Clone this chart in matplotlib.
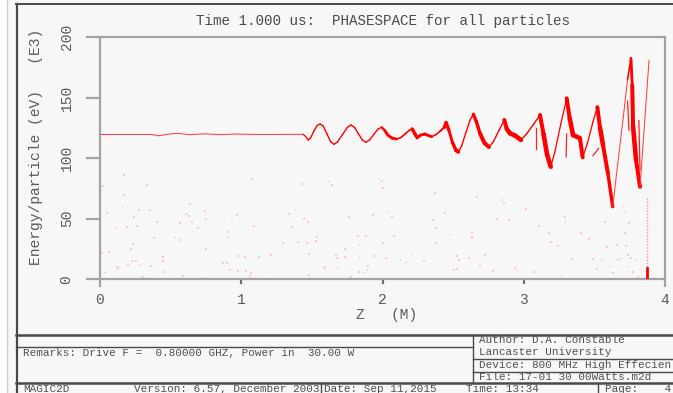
import matplotlib
matplotlib.use('Agg')
import numpy as np
import matplotlib.pyplot as plt
from matplotlib.collections import LineCollection
from matplotlib.lines import Line2D

# ---------------------------------------------------------------
# Phase space data: beam centre line (Z in m, energy in keV)
# beam_spread = relative energy spread of the bunch from each point
# to the next one
# ---------------------------------------------------------------
beam_z = [0.000, 0.354, 0.418, 0.467, 0.545, 0.637, 0.743, 0.850, 0.956, 1.133,
          1.437, 1.455, 1.473, 1.490, 1.515, 1.538, 1.558, 1.580, 1.607, 1.633,
          1.657, 1.682, 1.717, 1.752, 1.777, 1.803, 1.830, 1.858, 1.883, 1.910,
          1.938, 1.968, 1.994, 2.015, 2.037, 2.068, 2.100, 2.130, 2.160, 2.190,
          2.211, 2.230, 2.246, 2.270, 2.301, 2.325, 2.348, 2.380, 2.410, 2.438,
          2.450, 2.470, 2.495, 2.520, 2.537, 2.560, 2.590, 2.620, 2.643, 2.665,
          2.690, 2.722, 2.754, 2.785, 2.825, 2.862, 2.880, 2.903, 2.940, 2.980,
          3.020, 3.070, 3.115, 3.140, 3.165, 3.191, 3.220, 3.262, 3.304, 3.325,
          3.349, 3.398, 3.417, 3.450, 3.490, 3.521, 3.540, 3.561, 3.595, 3.630,
          3.665, 3.705, 3.735, 3.759, 3.768, 3.774, 3.795, 3.823, 3.855, 3.887]
beam_e = [119.7, 119.7, 118.5, 119.5, 120.5, 119.4, 120.1, 119.4, 119.9, 119.5,
          119.7, 118.0, 115.0, 116.5, 122.5, 127.0, 128.2, 126.5, 120.0, 113.5,
          111.4, 113.5, 119.5, 125.5, 127.4, 125.3, 120.0, 115.0, 113.1, 115.2,
          119.5, 124.0, 125.5, 123.0, 119.1, 116.5, 115.8, 117.0, 120.0, 123.0,
          124.1, 120.0, 116.9, 119.0, 119.9, 118.7, 117.7, 119.5, 122.5, 125.5,
          129.3, 123.0, 113.0, 106.5, 105.3, 110.0, 121.0, 131.5, 136.2, 130.0,
          120.5, 112.5, 109.2, 113.5, 123.0, 131.5, 124.0, 120.5, 118.5, 115.0,
          120.0, 128.0, 135.6, 120.0, 103.0, 92.9, 105.0, 128.0, 149.4, 133.0,
          119.1, 116.4, 100.7, 112.0, 130.0, 142.0, 125.0, 110.9, 88.0, 59.9,
          95.0, 134.2, 165.0, 182.4, 160.0, 126.0, 98.5, 76.4, 128.0, 181.0]
beam_spread = [0, 0, 0, 0, 0, 0, 0, 0, 0, 0,
               0.2, 0.2, 0.3, 0.3, 0.3, 0.3, 0.3, 0.3, 0.3, 0.3,
               0.3, 0.3, 0.3, 0.3, 0.3, 0.3, 0.3, 0.3, 0.3, 0.3,
               0.3, 0.3, 1.0, 1.5, 1.5, 1.5, 0.5, 0.5, 0.5, 0.5,
               2.0, 2.0, 1.5, 1.5, 1.5, 1.5, 0.5, 0.5, 0.8, 2.0,
               2.0, 1.5, 2.0, 2.5, 0.3, 0.3, 0.3, 0.3, 2.0, 2.0,
               2.5, 2.5, 0.3, 0.3, 0.3, 2.5, 3.0, 3.0, 3.0, 0.3,
               0.3, 0.3, 2.5, 3.0, 3.0, 0.2, 0.2, 0.2, 2.5, 3.0,
               3.0, 2.5, 0.2, 0.2, 0.2, 2.5, 3.0, 2.5, 2.0, 0.0,
               0.0, 0.0, 0.5, 1.5, 2.5, 3.0, 2.5, 0.0, 0.0, 0.0]

# short side branches of the phase space
branch_z = [[3.087, 3.087], [3.304, 3.300], [3.490, 3.530], [3.815, 3.823], [3.735, 3.745]]
branch_e = [[124.8, 107.5], [120.0, 101.0], [102.0, 108.0], [131.0, 90.0], [147.0, 123.0]]

# reflected particles near the output
streak_z = [3.870, 3.870]
streak_e = [66.9, 0.0]
base_e = [9.0, 0.0]

# scattered low energy particles
scatter_z = [0.170, 0.020, 0.335, 0.170, 1.078, 1.428, 1.484, 1.619, 1.645, 1.978,
             0.637, 0.047, 0.160, 0.274, 0.354, 0.609, 0.632, 0.741, 0.748, 0.970,
             1.340, 1.390, 1.442, 1.470, 1.765, 1.935, 0.241, 0.109, 0.189, 0.264,
             0.406, 0.564, 0.654, 0.649, 0.694, 0.932, 1.088, 1.359, 0.382, 0.529,
             0.576, 0.691, 0.904, 0.904, 0.989, 1.293, 1.402, 1.468, 1.534, 1.529,
             1.824, 1.881, 1.838, 0.231, 0.217, 0.066, 0.014, 0.748, 0.448, 0.444,
             0.227, 0.255, 0.290, 0.200, 0.359, 0.118, 0.130, 0.033, 0.448, 0.295,
             0.314, 0.590, 0.748, 0.873, 0.901, 0.918, 0.975, 0.975, 1.029, 1.123,
             1.213, 1.034, 1.067, 1.062, 1.171, 1.442, 1.477, 1.586, 1.595, 1.673,
             1.680, 1.737, 1.735, 1.838, 1.942, 1.683, 1.777, 1.836, 1.864, 1.895,
             1.893, 1.477,
             1.994, 2.006, 2.142, 2.034, 2.067, 2.081, 2.001, 2.024, 2.128, 2.166,
             2.213, 2.293, 2.371, 2.442, 2.360, 2.378, 2.478, 2.631, 2.631, 2.671,
             2.843, 2.860, 2.808, 2.898, 3.016, 3.110, 3.181, 3.195, 3.242, 3.292,
             3.296, 3.407, 3.462, 2.378, 2.529, 2.544, 2.614, 2.680, 2.723, 2.860,
             2.690, 2.529, 2.506, 2.784, 2.843, 2.938, 2.954, 3.072, 3.268, 3.339,
             3.492, 3.516, 3.551, 3.587, 3.615, 3.658, 3.669, 3.686, 3.717, 3.724,
             3.740, 3.757, 3.747, 3.775, 3.799, 3.575, 3.610, 3.634, 3.705, 3.717,
             3.745, 3.728, 3.811]
scatter_e = [86.4, 77.3, 77.8, 69.8, 83.0, 78.9, 77.0, 80.8, 77.8, 82.5,
             62.4, 54.7, 59.4, 56.9, 56.9, 54.2, 52.0, 56.1, 49.5, 53.1,
             53.9, 57.7, 49.8, 47.0, 51.4, 53.1, 51.4, 42.3, 43.4, 44.2,
             47.3, 46.5, 47.3, 39.3, 42.3, 47.8, 44.2, 43.2, 33.8, 34.6,
             32.4, 30.5, 38.8, 34.6, 32.1, 29.7, 30.8, 29.9, 35.2, 31.6,
             36.0, 35.7, 28.3, 29.4, 25.0, 22.5, 21.4, 25.0, 18.7, 15.1,
             14.8, 14.8, 12.3, 11.5, 11.2, 9.9, 9.3, 5.7, 6.0, 2.2,
             1.3, 2.7, 1.3, 13.2, 13.2, 7.7, 7.1, 19.5, 18.7, 18.7,
             20.0, 6.8, 5.5, 2.7, 6.0, 9.0, 21.1, 9.0, 10.4, 20.0,
             17.8, 18.7, 25.0, 17.3, 19.2, 9.0, 2.2, 6.0, 5.7, 11.2,
             7.7, 3.5,
             81.4, 75.1, 80.6, 55.9, 51.7, 35.8, 29.7, 17.3, 16.0, 13.8,
             20.9, 15.4, 71.0, 54.5, 49.0, 42.1, 36.9, 38.0, 34.7, 68.2,
             65.5, 62.7, 49.5, 49.0, 57.8, 44.0, 38.5, 30.8, 27.5, 51.2,
             47.3, 38.5, 33.0, 29.7, 19.3, 16.0, 17.6, 17.1, 20.1, 25.6,
             11.0, 8.3, 7.7, 6.9, 8.8, 9.6, 7.2, 6.3, 3.6, 16.5,
             16.5, 8.3, 16.0, 26.4, 40.7, 28.3, 16.0, 17.1, 38.0, 27.5,
             20.1, 17.3, 10.5, 6.3, 16.0, 47.3, 10.5, 5.0, 60.0, 55.9,
             46.2, 64.1, 2.2]

x_ticks = [0, 1, 2, 3, 4]
y_ticks = [0, 50, 100, 150, 200]

title_text = 'Time 1.000 us:  PHASESPACE for all particles'
remarks = 'Remarks: Drive F =  0.80000 GHZ, Power in  30.00 W'
author_lines = ['Author: D.A. Constable', 'Lancaster University',
                'Device: 800 MHz High Effecien', 'File: 17-01 30 00Watts.m2d']

#*******************************************************************************
#                                F I G U R E                                   *
#*******************************************************************************
W, H = 673, 393
bg = '#f7f7f7'
grey_ax = '#a3a3a3'
txt_c = '#5a5a5a'
frame_c = '#4a4a4a'
plt.rcParams['font.family'] = ['Liberation Mono', 'DejaVu Sans Mono']

def fx(px):
    return px / W

def fy(py):
    return 1 - py / H

fig = plt.figure(figsize=(W / 100, H / 100), dpi=100, facecolor=bg)

# outer white margin with light rule
fig.patches.append(plt.Rectangle((0, 0), fx(7), 1, transform=fig.transFigure,
                                 facecolor='white', edgecolor='none', zorder=0))
fig.add_artist(Line2D([fx(7), fx(7)], [0, 1], color='#d0d0d0', lw=1))

ax = fig.add_axes([fx(100), fy(279.3), fx(665) - fx(100), fy(37) - fy(279.3)])
ax.set_facecolor(bg)
ax.set_xlim(0, 4)
ax.set_ylim(0, 200)
for s in ax.spines.values():
    s.set_color(grey_ax)
    s.set_linewidth(1.6)

# ticks: long ones at the ends of the Z axis, short ones in between
ax.set_xticks([x_ticks[0], x_ticks[-1]])
ax.set_xticks(x_ticks[1:-1], minor=True)
ax.set_xticklabels([str(t) for t in [x_ticks[0], x_ticks[-1]]])
ax.set_xticklabels([str(t) for t in x_ticks[1:-1]], minor=True)
ax.tick_params(axis='x', which='major', direction='out', length=6, width=1.6,
               color=grey_ax, pad=4, labelsize=10.5, labelcolor=txt_c)
ax.tick_params(axis='x', which='minor', direction='out', length=3.6, width=1.6,
               color='#707070', pad=6.4, labelsize=10.5, labelcolor=txt_c)
ax.set_yticks(y_ticks)
ax.set_yticklabels([str(t) for t in y_ticks], rotation=90, va='center')
ax.tick_params(axis='y', direction='out', length=10, width=1.6, color=grey_ax,
               pad=9, labelsize=10.5, labelcolor=txt_c)

ax.set_ylabel('Energy/particle (eV)   (E3)', fontsize=10.5, color=txt_c)
ax.yaxis.set_label_coords(-0.101, 0.548)
ax.set_xlabel('Z   (M)', fontsize=10.5, color=txt_c)
ax.xaxis.set_label_coords(0.508, -0.12)
fig.text(fx(196), fy(21), title_text, fontsize=10.3, color='#4a4a4a',
         ha='left', va='center')

# scattered particles
ax.scatter(scatter_z, scatter_e, s=1.6, marker='s', color='#ffc4c4',
           edgecolors='none', zorder=2)

# beam centre line with bunch thickness (single particle tracks a bit lighter)
pts = np.column_stack([beam_z, beam_e])
segs = np.stack([pts[:-1], pts[1:]], axis=1)
widths = [0.75 + 0.85 * s for s in beam_spread[:-1]]
colours = ['#ff4040' if s == 0 else '#ff0000' for s in beam_spread[:-1]]
lc = LineCollection(segs, linewidths=widths, colors=colours,
                    capstyle='round', joinstyle='round', zorder=3)
ax.add_collection(lc)
for bz, be in zip(branch_z, branch_e):
    ax.plot(bz, be, color='#ff2020', lw=0.9, zorder=3)
ax.plot(streak_z, streak_e, color='#ff9090', lw=1.0, ls=(0, (1, 1.2)), zorder=3)
ax.plot(streak_z, base_e, color='#ff0000', lw=2.0, zorder=3)

#*******************************************************************************
#                      F R A M E   A N D   F O O T E R                         *
#*******************************************************************************
def hline(py, x0, x1, lw=1.0):
    fig.add_artist(Line2D([fx(x0), fx(x1)], [fy(py), fy(py)], color=frame_c, lw=lw))

def vline(px, y0, y1, lw=1.0):
    fig.add_artist(Line2D([fx(px), fx(px)], [fy(y0), fy(y1)], color=frame_c, lw=lw))

hline(4, 16, W, lw=1.4)
vline(16.5, 4, H, lw=1.6)
hline(335, 16, W, lw=1.8)
hline(346.7, 16, 473)
vline(473, 335, 383)
hline(359.3, 473, W)
hline(371.7, 473, W)
hline(383, 16, W, lw=1.8)
vline(321, 383, H)
vline(597.7, 383, H)

foot = dict(fontsize=7.9, color='#505050', va='center', ha='left')
fig.text(fx(23), fy(352.7), remarks, **foot)
for i, line in enumerate(author_lines):
    fig.text(fx(479), fy(340 + 12.3 * i), line, **foot)
fig.text(fx(23), fy(389), 'MAGIC2D', **foot)
fig.text(fx(134), fy(389), 'Version: 6.57, December 2003', **foot)
fig.text(fx(324), fy(389), 'Date: Sep 11,2015', **foot)
fig.text(fx(466), fy(389), 'Time: 13:34', **foot)
fig.text(fx(605), fy(389), 'Page:    4', **foot)

fig.savefig('out.png', dpi=100, facecolor=bg)
plt.close('all')
